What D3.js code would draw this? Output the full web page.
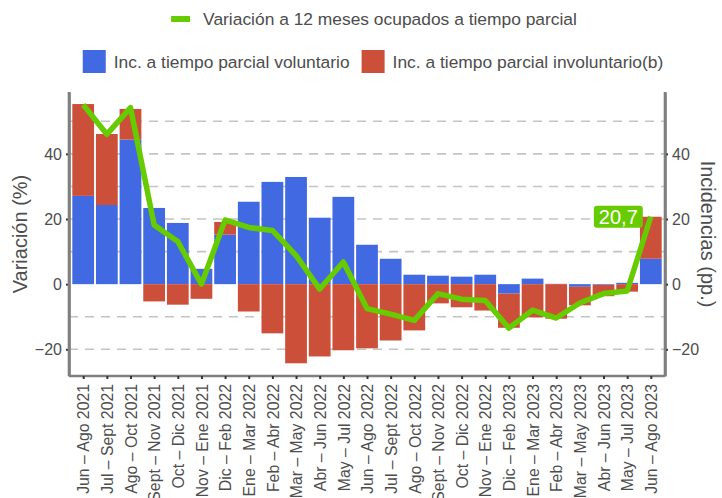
<!DOCTYPE html>
<html>
<head>
<meta charset="utf-8">
<style>
  body { margin: 0; background: #fff; }
  svg text { font-family: "Liberation Sans", Arial, sans-serif; fill: #4d4d4d; }
  .grid line { stroke: #c4c4c4; stroke-width: 1.6px; stroke-dasharray: 9,7; }
  .axis path.domain { stroke: #7f7f7f; stroke-width: 2.6px; }
  .axis .tick line { stroke: #333; stroke-width: 2px; }
  .axis .tick text { font-size: 16px; fill: #4d4d4d; }
  .xaxis .tick text { font-size: 15.8px; }
</style>
</head>
<body>
<script src="https://d3js.org/d3.v7.min.js"></script>
<script>
// periods (moving quarters)
var periods = ["Jun – Ago 2021", "Jul – Sept 2021", "Ago – Oct 2021", "Sept – Nov 2021",
  "Oct – Dic 2021", "Nov – Ene 2021", "Dic – Feb 2022", "Ene – Mar 2022", "Feb – Abr 2022",
  "Mar – May 2022", "Abr – Jun 2022", "May – Jul 2022", "Jun – Ago 2022", "Jul – Sept 2022",
  "Ago – Oct 2022", "Sept – Nov 2022", "Oct – Dic 2022", "Nov – Ene 2022", "Dic – Feb 2023",
  "Ene – Mar 2023", "Feb – Abr 2023", "Mar – May 2023", "Abr – Jun 2023", "May – Jul 2023",
  "Jun – Ago 2023"];

// incidence of voluntary part-time (pp.)
var voluntario = [27.1, 24.3, 44.4, 23.4, 18.8, 4.7, 15.2, 25.3, 31.4, 32.9, 20.4, 26.8, 12.1,
  7.8, 2.9, 2.6, 2.3, 2.9, -2.9, 1.7, 0.1, -0.8, -0.2, 0.4, 7.8];

// incidence of involuntary part-time (pp.)
var involuntario = [28.2, 21.8, 9.4, -5.3, -6.3, -4.5, 3.9, -8.4, -15.1, -24.3, -22.2, -20.3,
  -19.7, -17.3, -14.2, -5.9, -7.1, -8.1, -10.5, -10.2, -10.6, -5.7, -3.5, -2.3, 12.9];

// 12-month change of part-time employed (%)
var variacion = [55.1, 46.0, 54.2, 18.2, 13.1, 0.0, 19.7, 17.4, 16.5, 8.8, -1.5, 6.8, -7.5,
  -9.2, -11.1, -2.9, -4.6, -5.0, -13.5, -8.0, -10.4, -5.8, -2.9, -2.1, 20.7];

var yTicks = [-20, 0, 20, 40];
var gridValues = [-20, -10, 10, 20, 30, 40, 50];

var W = 722, H = 498;
var margin = {top: 92, right: 57, bottom: 122, left: 69};
var width = W - margin.left - margin.right,
    height = H - margin.top - margin.bottom;

var colVol = "#4169e1", colInv = "#cc4f3a", colLine = "#66cc00";

var svg = d3.select("body").append("svg")
    .attr("width", W).attr("height", H);

var g = svg.append("g")
    .attr("transform", "translate(" + margin.left + "," + margin.top + ")");

var x = d3.scalePoint().domain(periods).range([0, width]).padding(0.6);
var y = d3.scaleLinear().domain([-28.2, 59]).range([height, 0]);
var bw = x.step() * 0.92;

// gridlines
g.append("g").attr("class", "grid")
  .selectAll("line").data(gridValues).join("line")
    .attr("x1", 0).attr("x2", width)
    .attr("y1", function(d) { return y(d); })
    .attr("y2", function(d) { return y(d); });

// stacked bars (diverging)
var rows = periods.map(function(p, i) {
  return {periodo: p, vol: voluntario[i], inv: involuntario[i]};
});
var series = d3.stack().keys(["vol", "inv"]).offset(d3.stackOffsetDiverging)(rows);
var colors = {vol: colVol, inv: colInv};

g.selectAll("g.serie").data(series).join("g")
    .attr("class", "serie")
    .attr("fill", function(s) { return colors[s.key]; })
  .selectAll("rect").data(function(s) { return s; }).join("rect")
    .attr("x", function(d) { return x(d.data.periodo) - bw / 2; })
    .attr("width", bw)
    .attr("y", function(d) { return y(Math.max(d[0], d[1])); })
    .attr("height", function(d) { return Math.abs(y(d[0]) - y(d[1])); });

// line
var line = d3.line()
    .x(function(d, i) { return x(periods[i]); })
    .y(function(d) { return y(d); });

g.append("path")
    .datum(variacion)
    .attr("fill", "none")
    .attr("stroke", colLine)
    .attr("stroke-width", 5.5)
    .attr("stroke-linejoin", "round")
    .attr("d", line);

// label for last value
var lastI = variacion.length - 1;
var lx = x(periods[lastI]) - 8, ly = y(variacion[lastI]);
var lab = g.append("g");
var labText = lab.append("text")
    .attr("x", lx - 5).attr("y", ly)
    .attr("dy", "0.36em")
    .attr("text-anchor", "end")
    .style("font-size", "20px")
    .style("fill", "#fff")
    .text(String(variacion[lastI]).replace(".", ","));
var bb = labText.node().getBBox();
lab.insert("rect", "text")
    .attr("x", bb.x - 5).attr("y", ly - 11)
    .attr("width", bb.width + 10).attr("height", 22)
    .attr("rx", 3)
    .attr("fill", colLine);

// axes
g.append("g").attr("class", "axis")
    .call(d3.axisLeft(y).tickValues(yTicks).tickSize(3).tickSizeOuter(0).tickPadding(4));

g.append("g").attr("class", "axis")
    .attr("transform", "translate(" + width + ",0)")
    .call(d3.axisRight(y).tickValues(yTicks).tickSize(3).tickSizeOuter(0).tickPadding(4));

var xAxis = g.append("g").attr("class", "axis xaxis")
    .attr("transform", "translate(0," + height + ")")
    .call(d3.axisBottom(x).tickSize(3).tickSizeOuter(0));
xAxis.select("path.domain").attr("d", "M0,0H" + width);
xAxis.selectAll(".tick text")
    .attr("transform", "rotate(-90)")
    .attr("text-anchor", "end")
    .attr("x", -8).attr("y", 0).attr("dy", "0.36em");

// vertical axis lines over full height
g.append("line").attr("x1", 0).attr("x2", 0).attr("y1", 0).attr("y2", height)
    .attr("stroke", "#7f7f7f").attr("stroke-width", 2.6);
g.append("line").attr("x1", width).attr("x2", width).attr("y1", 0).attr("y2", height)
    .attr("stroke", "#7f7f7f").attr("stroke-width", 2.6);

// axis titles
svg.append("text")
    .attr("transform", "translate(27," + (margin.top + height / 2) + ") rotate(-90)")
    .attr("text-anchor", "middle")
    .style("font-size", "20px")
    .text("Variación (%)");

svg.append("text")
    .attr("transform", "translate(701," + (margin.top + height / 2) + ") rotate(90)")
    .attr("text-anchor", "middle")
    .style("font-size", "20px")
    .text("Incidencias (pp.)");

// legend row 1 (line)
var leg1 = svg.append("g");
var t1 = leg1.append("text").attr("x", 32).attr("y", 19).attr("dy", "0.35em")
    .style("font-size", "17.4px")
    .text("Variación a 12 meses ocupados a tiempo parcial");
leg1.append("rect").attr("x", 0).attr("y", 16).attr("width", 19).attr("height", 6)
    .attr("fill", colLine);
var w1 = 32 + t1.node().getComputedTextLength();
leg1.attr("transform", "translate(" + (374 - w1 / 2) + ",0)");

// legend row 2 (bars)
var leg2 = svg.append("g");
var items = [{label: "Inc. a tiempo parcial voluntario", color: colVol},
             {label: "Inc. a tiempo parcial involuntario(b)", color: colInv}];
var cx = 0;
items.forEach(function(it, i) {
  leg2.append("rect").attr("x", cx).attr("y", 50).attr("width", 23).attr("height", 23)
      .attr("fill", it.color);
  var t = leg2.append("text").attr("x", cx + 31).attr("y", 61.5).attr("dy", "0.35em")
      .style("font-size", "17.4px").text(it.label);
  cx += 31 + t.node().getComputedTextLength() + 12;
});
var w2 = cx - 12;
leg2.attr("transform", "translate(" + (373 - w2 / 2) + ",0)");
</script>
</body>
</html>
